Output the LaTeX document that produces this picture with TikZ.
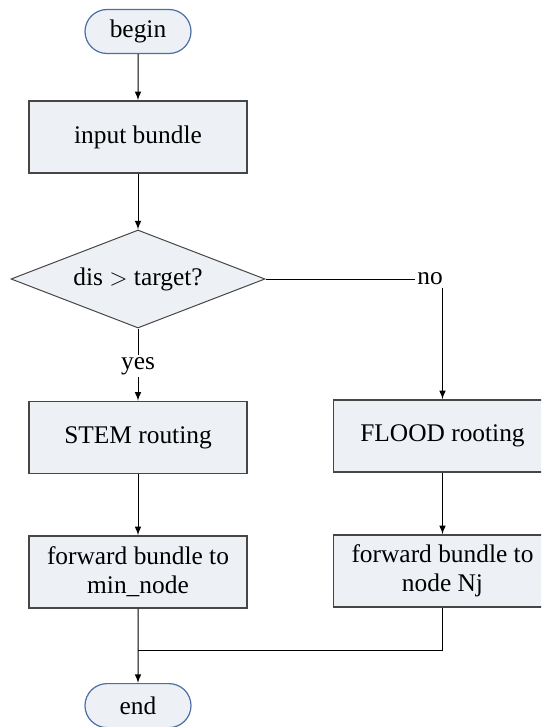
\documentclass[tikz,border=0pt]{standalone}
\usepackage{fontspec}
\setmainfont{Liberation Serif}
\usepackage{xcolor}
\usetikzlibrary{arrows}
\usetikzlibrary{shapes.geometric, shapes.misc}
\definecolor{bx}{RGB}{237, 241, 246}
\definecolor{bd}{RGB}{70, 70, 70}
\definecolor{tb}{RGB}{75, 110, 165}

\begin{document}
\begin{tikzpicture}[x=0.5pt, y=-0.5pt, >=latex, font=\fontsize{12.7}{14.5}\selectfont,
    proc/.style={rectangle, draw=bd, line width=0.75pt, fill=bx, minimum width=109pt, minimum height=36pt, inner sep=0pt, align=center},
    term/.style={rounded rectangle, draw=tb, line width=0.6pt, fill=bx, minimum width=53pt, minimum height=22pt, inner sep=0pt},
    decide/.style={diamond, aspect=2.6, draw=bd, line width=0.5pt, fill=bx, minimum width=127pt, minimum height=49pt, inner sep=0pt},
    lbl/.style={inner sep=1pt}]
        \useasboundingbox (0,0) rectangle (541,727);
        \clip (0,0) rectangle (541,727);
        \node[term] (begin) at (138,31.5) {begin};
        \node[proc] (input) at (138,137) {input bundle};
        \node[decide] (dis) at (138,279) {dis $>$ target?};
        \node[lbl] (yes) at (138,366) {yes};
        \node[lbl] (no) at (430,279) {no};
        \node[proc] (stem) at (138,437.5) {STEM routing};
        \node[proc] (flood) at (442.5,436) {FLOOD rooting};
        \node[proc] (fwdmin) at (138,572) {forward bundle to\\min\_node};
        \node[proc] (fwdnj) at (442.5,571) {forward bundle to\\node Nj};
        \node[term, anchor=north] (end) at (138,683) {end};
        \coordinate (join) at (138,650);
        % main line
        \draw[->, line width=0.5pt] (begin) -- (input);
        \draw[->, line width=0.5pt] (input) -- (dis);
        \draw[line width=0.5pt] (dis) -- (yes);
        \draw[->, line width=0.5pt] (yes) -- (stem);
        \draw[->, line width=0.5pt] (stem) -- (fwdmin);
        \draw[->, line width=0.5pt] (fwdmin) -- (end);
        % no branch
        \draw[line width=0.5pt] (dis) -- (no);
        \draw[->, line width=0.5pt] (no.south -| flood.north) -- (flood);
        \draw[->, line width=0.5pt] (flood) -- (fwdnj);
        \draw[line width=0.5pt] (fwdnj) |- (join);
    \end{tikzpicture}
\end{document}
